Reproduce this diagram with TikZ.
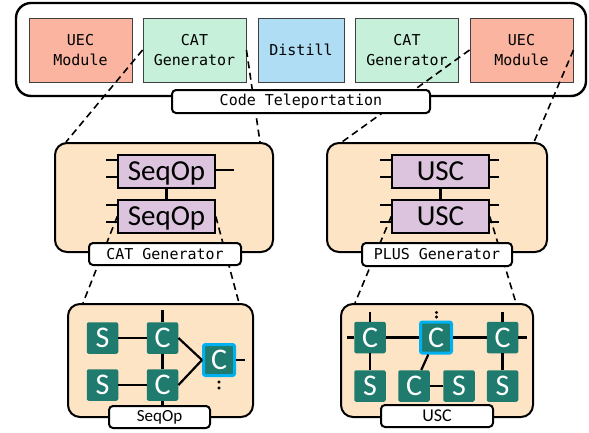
\documentclass[tikz,border=0pt]{standalone}
\usepackage{fontspec}
\newfontfamily\monofont{DejaVu Sans Mono}
\newfontfamily\calfont{Carlito}

\definecolor{uecfill}{RGB}{250,180,160}
\definecolor{catfill}{RGB}{198,240,218}
\definecolor{distfill}{RGB}{174,221,244}
\definecolor{panelfill}{RGB}{253,228,197}
\definecolor{opfill}{RGB}{220,196,222}
\definecolor{tileteal}{RGB}{30,123,110}
\definecolor{hlcyan}{RGB}{0,176,240}

\begin{document}
\begin{tikzpicture}[x=1pt,y=-1pt,
    modbox/.style={draw=black!75,line width=0.9pt,minimum height=64pt,inner sep=0pt,align=center,
      font=\monofont\fontsize{15}{20}\selectfont},
    panel/.style={draw,line width=2pt,rounded corners=12pt,fill=panelfill,inner sep=0pt},
    opbox/.style={draw,line width=1.6pt,fill=opfill,minimum width=97pt,minimum height=33pt,
      inner sep=0pt,text depth=0pt,font=\calfont\fontsize{29}{29}\selectfont},
    tag/.style={draw,line width=2pt,rounded corners=4pt,fill=white,inner sep=0pt,
      minimum height=22pt,font=\monofont\fontsize{15}{15}\selectfont},
    tile/.style={fill=tileteal,rounded corners=2pt,minimum size=31.5pt,inner sep=0pt,
      text=white,text depth=0pt,font=\calfont\fontsize{30}{30}\selectfont},
    hltile/.style={tile,draw=hlcyan,line width=3pt,minimum size=31pt},
    wire/.style={line width=2.2pt},
    zoomline/.style={line width=1.6pt,dash pattern=on 7pt off 4.5pt}]
  \useasboundingbox (0,0) rectangle (589,432);

  % code teleportation row
  \node[draw,line width=2.4pt,rounded corners=15pt,minimum width=570pt,minimum height=93pt,inner sep=0pt] (ctbox) at (301,49.5) {};
  \node[modbox,fill=uecfill,minimum width=103pt] (uec1) at (80.5,50) {UEC\\Module};
  \node[modbox,fill=catfill,minimum width=103pt] (cat1) at (194.5,50) {CAT\\Generator};
  \node[modbox,fill=distfill,minimum width=86pt] (dist) at (301,50) {Distill};
  \node[modbox,fill=catfill,minimum width=103pt] (cat2) at (407,50) {CAT\\Generator};
  \node[modbox,fill=uecfill,minimum width=103pt] (uec2) at (521.5,50) {UEC\\Module};

  % generator panels
  \node[panel,minimum width=218pt,minimum height=109pt] (catg) at (164,197.5) {};
  \node[panel,minimum width=220pt,minimum height=109pt] (plusg) at (437,197.5) {};

  % operation boxes and their pins
  \node[opbox] (seqa) at (166.5,171.5) {SeqOp};
  \node[opbox] (seqb) at (166.5,216.5) {SeqOp};
  \node[opbox] (usca) at (440.5,171.5) {USC};
  \node[opbox] (uscb) at (440.5,216.5) {USC};
  \foreach \b in {seqa,seqb,usca,uscb}
  {
    \draw[wire] ([yshift=-6pt]\b.north west) -- ++(-11,0);
    \draw[wire] ([yshift=-23pt]\b.north west) -- ++(-11,0);
  }
  \foreach \b in {usca,uscb}
  {
    \draw[wire] ([yshift=-6pt]\b.north east) -- ++(9,0);
    \draw[wire] ([yshift=-23pt]\b.north east) -- ++(9,0);
  }
  \draw[wire] ([yshift=1.5pt]seqa.east) -- ++(18,0);
  \draw[wire] (seqa) -- (seqb);
  \draw[wire] (usca) -- (uscb);

  % seqop panel
  \node[panel,minimum width=185pt,minimum height=113pt] (seqbox) at (160.5,360.5) {};
  \node[tile] (s1) at (102.5,338) {S};
  \node[tile] (s2) at (102.5,385) {S};
  \node[tile] (c1) at (162.5,338) {C};
  \node[tile] (c2) at (162.5,385) {C};
  \node[hltile] (hl) at (219,360) {C};
  \coordinate (c1top) at (162.5,310);
  \coordinate (c2bot) at (162.5,406);
  \coordinate (hlpin) at (245,360);
  \draw[wire] (s1) -- (c1);
  \draw[wire] (s2) -- (c2);
  \draw[wire] (c1) -- (c2);
  \draw[wire] (c1top) -- (c1);
  \draw[wire] (c2) -- (c2bot);
  \draw[wire] (c1.east) -- (hl.west);
  \draw[wire] (c2.east) -- (hl.west);
  \draw[wire] (hl) -- (hlpin);
  \filldraw (219,382) circle (1.4pt);
  \filldraw (219,388) circle (1.4pt);

  % usc panel
  \node[panel,minimum width=192pt,minimum height=113pt] (uscbox) at (437,360.5) {};
  \node[tile] (cl) at (370,337.5) {C};
  \node[hltile] (hr) at (436,337.5) {C};
  \node[tile] (cr) at (502.5,337.5) {C};
  \node[tile] (sl) at (370,386) {S};
  \node[tile] (cm) at (414,386) {C};
  \node[tile] (sm) at (459,386) {S};
  \node[tile] (sr) at (502.5,386) {S};
  \coordinate (rowl) at (347,337.5);
  \coordinate (rowr) at (527,337.5);
  \coordinate (cltop) at (370,312);
  \coordinate (crtop) at (502.5,312);
  \draw[wire] (rowl) -- (cl) -- (hr) -- (cr) -- (rowr);
  \draw[wire] (cltop) -- (cl) -- (sl);
  \draw[wire] (crtop) -- (cr) -- (sr);
  \draw[wire] (hr) -- (cm);
  \draw[wire] (cm) -- (sm);
  \filldraw (436.5,312.5) circle (1.4pt);
  \filldraw (436.5,317) circle (1.4pt);

  % zoom lines
  \draw[zoomline] (cat1.west) -- ([xshift=12pt]catg.north west);
  \draw[zoomline] (cat1.east) -- ([xshift=-14pt]catg.north east);
  \draw[zoomline] (uec2.west) -- ([xshift=16pt]plusg.north west);
  \draw[zoomline] (uec2.east) -- ([xshift=-14pt]plusg.north east);
  \draw[zoomline] (seqb.west) -- ([xshift=16pt]seqbox.north west);
  \draw[zoomline] (seqb.east) -- ([xshift=-15pt]seqbox.north east);
  \draw[zoomline] (uscb.west) -- ([xshift=15pt]uscbox.north west);
  \draw[zoomline] (uscb.east) -- ([xshift=-18pt]uscbox.north east);

  % labels
  \node[tag,minimum width=258pt,minimum height=23pt] (ctlabel) at (301,101.5) {Code Teleportation};
  \node[tag,minimum width=152pt] (catlabel) at (165,254) {CAT Generator};
  \node[tag,minimum width=150pt,minimum height=23pt] (pluslabel) at (437,254.5) {PLUS Generator};
  \node[tag,minimum width=101pt,font=\calfont\fontsize{17}{17}\selectfont] (seqlabel) at (159.5,417) {SeqOp};
  \node[tag,minimum width=112pt,font=\calfont\fontsize{18}{18}\selectfont] (usclabel) at (437,416) {USC};
\end{tikzpicture}
\end{document}
